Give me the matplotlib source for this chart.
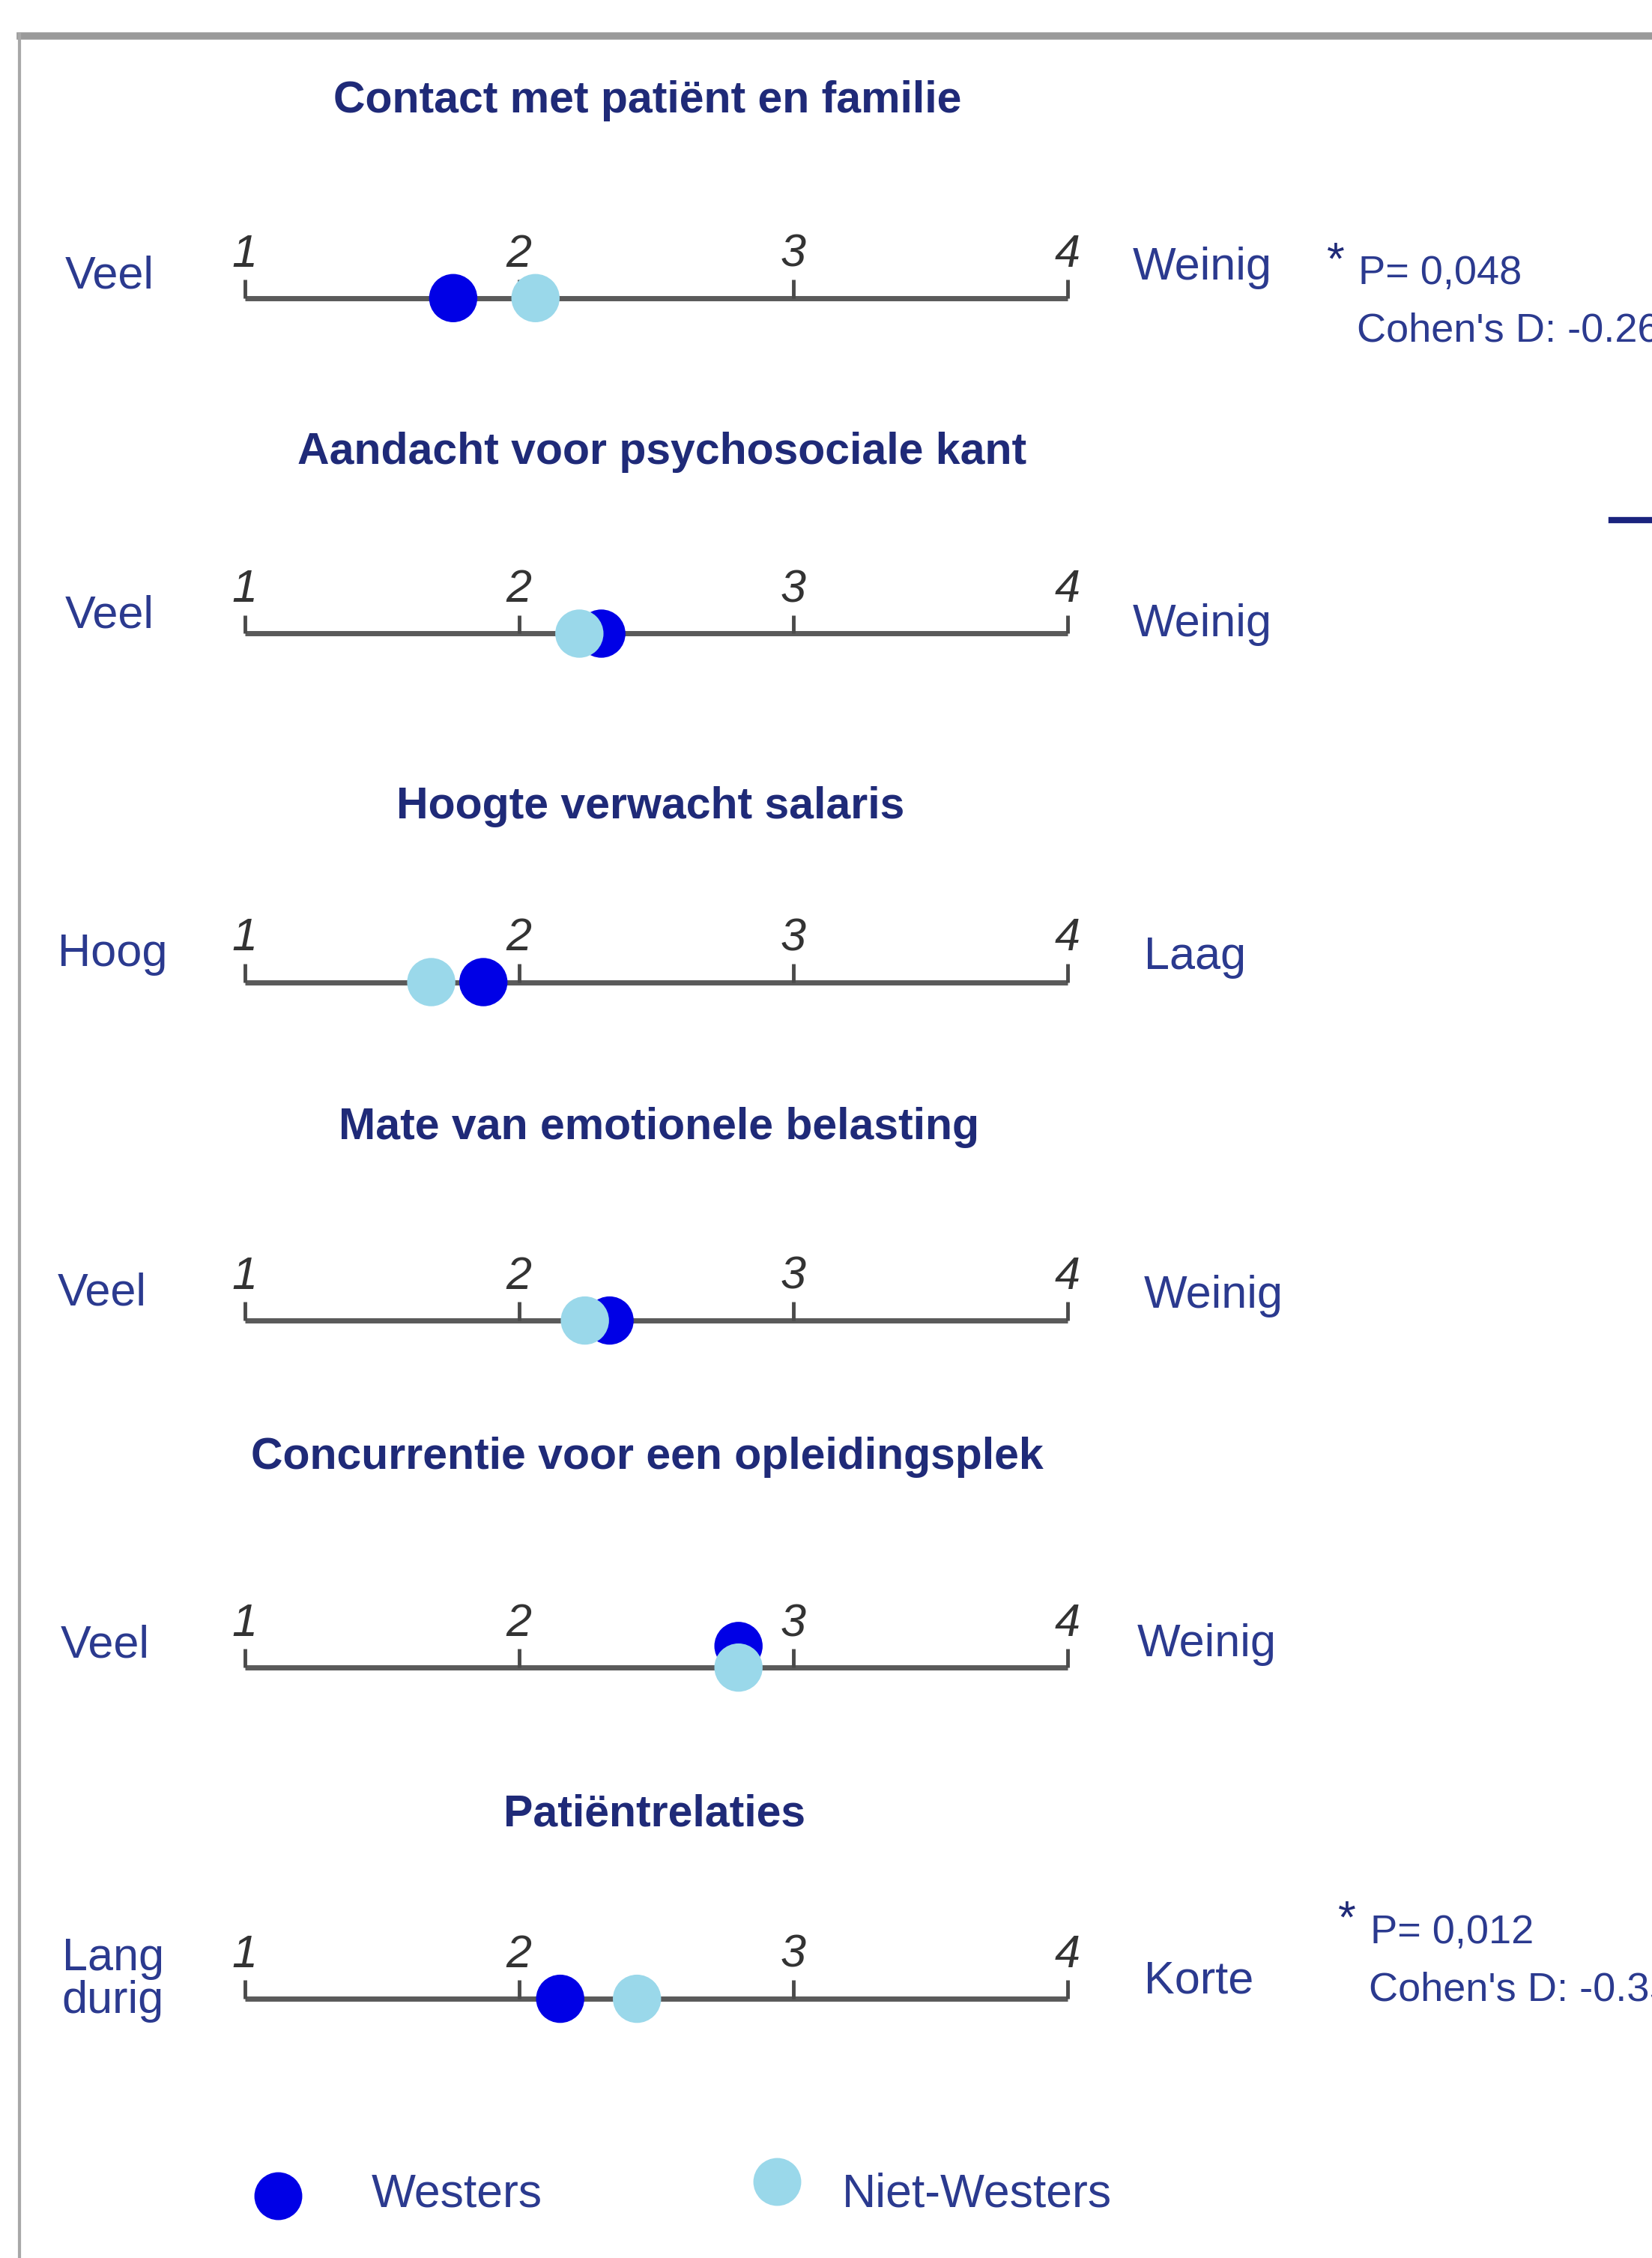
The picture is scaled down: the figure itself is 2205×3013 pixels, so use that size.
import numpy as np
import matplotlib.pyplot as plt
from matplotlib.lines import Line2D

# gegevens
titels = ["Contact met patiënt en familie",
          "Aandacht voor psychosociale kant",
          "Hoogte verwacht salaris",
          "Mate van emotionele belasting",
          "Concurrentie voor een opleidingsplek",
          "Patiëntrelaties"]
links = ["Veel", "Veel", "Hoog", "Veel", "Veel", "Lang\ndurig"]
rechts = ["Weinig", "Weinig", "Laag", "Weinig", "Weinig", "Korte"]
westers = [1.76, 2.30, 1.87, 2.33, 2.80, 2.15]
niet_westers = [2.06, 2.22, 1.68, 2.24, 2.80, 2.43]
schaal = [1, 2, 3, 4]
p_waarden = ["0,048", None, None, None, None, "0,012"]
cohens_d = ["-0.26", None, None, None, None, "-0.35"]

# opmaak (posities in pixels van de verkleinde afbeelding 1148x1568)
W, H = 1148, 1568
lijn_y = [207, 440, 682, 917, 1158, 1388]
titel_y = [70, 314, 560, 783, 1012, 1260]
titel_x = [450, 460, 452, 458, 450, 455]
links_xy = [(45, 192), (45, 428), (40, 663), (40, 898), (42, 1143), (43, 1375)]
rechts_xy = [(787, 186), (787, 434), (795, 665), (795, 900), (790, 1142), (795, 1376)]
westers_dy = [0, 0, 0, 0, -15, 0]
stat_xy = [(922, 190), None, None, None, None, (930, 1342)]

blauw = "#0000e6"
lichtblauw = "#9ad8ea"
navy = "#1f2a78"
tekst = "#2b3a8f"
gewoon = ["Liberation Sans", "DejaVu Sans"]


def fx(x):
    return x / W


def fy(y):
    return 1 - y / H


fig = plt.figure(figsize=(22.05, 30.13), dpi=100)
ax = fig.add_axes([0, 0, 1, 1])
ax.set_xlim(0.108, 6.13)
ax.set_ylim(H, 0)
ax.axis("off")

for i in range(len(titels)):
    y = lijn_y[i]
    ax.plot([1, 4], [y, y], color="#5a5a5a", lw=5, solid_capstyle="butt", zorder=1)
    ax.vlines(schaal, y - 13, y, color="#4a4a4a", lw=3.5, zorder=1)
    for s in schaal:
        ax.text(s, y - 30, str(s), ha="center", va="center", fontsize=44,
                color="#333333", family=gewoon, fontstyle="italic", zorder=1)
    ax.scatter([westers[i]], [y + westers_dy[i]], s=2150, color=blauw,
               edgecolors="none", zorder=3)
    ax.scatter([niet_westers[i]], [y], s=2150, color=lichtblauw,
               edgecolors="none", zorder=4)

    fig.text(fx(titel_x[i]), fy(titel_y[i]), titels[i], ha="center", va="center",
             fontsize=42.5, fontweight="bold", color=navy, family=gewoon)
    lx, ly = links_xy[i]
    fig.text(fx(lx), fy(ly), links[i], ha="left", va="center", fontsize=44,
             color=tekst, family=gewoon, linespacing=1.0)
    rx, ry = rechts_xy[i]
    fig.text(fx(rx), fy(ry), rechts[i], ha="left", va="center", fontsize=44,
             color=tekst, family=gewoon)

    if p_waarden[i] is not None:
        sx, sy = stat_xy[i]
        fig.text(fx(sx), fy(sy - 8), "*", ha="left", va="center", fontsize=44,
                 color=navy, family=gewoon)
        fig.text(fx(sx + 22), fy(sy), "P= " + p_waarden[i], ha="left", va="center",
                 fontsize=39, color=tekst, family=gewoon)
        fig.text(fx(sx + 21), fy(sy + 40), "Cohen's D: " + cohens_d[i], ha="left",
                 va="center", fontsize=39, color=tekst, family=gewoon)

# legenda
fig.add_artist(Line2D([fx(193)], [fy(1525)], marker="o", markersize=46,
                      color=blauw, markeredgewidth=0, linestyle="none"))
fig.text(fx(258), fy(1524), "Westers", ha="left", va="center", fontsize=45,
         color=tekst, family=gewoon)
fig.add_artist(Line2D([fx(540)], [fy(1515)], marker="o", markersize=46,
                      color=lichtblauw, markeredgewidth=0, linestyle="none"))
fig.text(fx(585), fy(1524), "Niet-Westers", ha="left", va="center", fontsize=45,
         color=tekst, family=gewoon)

# kader en afgesneden lijntje rechts
fig.add_artist(Line2D([fx(14), 1.0], [fy(25), fy(25)], color="#9a9a9a", lw=7))
fig.add_artist(Line2D([fx(13.5), fx(13.5)], [fy(24), 0], color="#a8a8a8", lw=3))
fig.add_artist(Line2D([fx(1120), 1.0], [fy(361), fy(361)], color="#1a237e", lw=6))

fig.savefig("out.png", dpi=100, facecolor="white")
